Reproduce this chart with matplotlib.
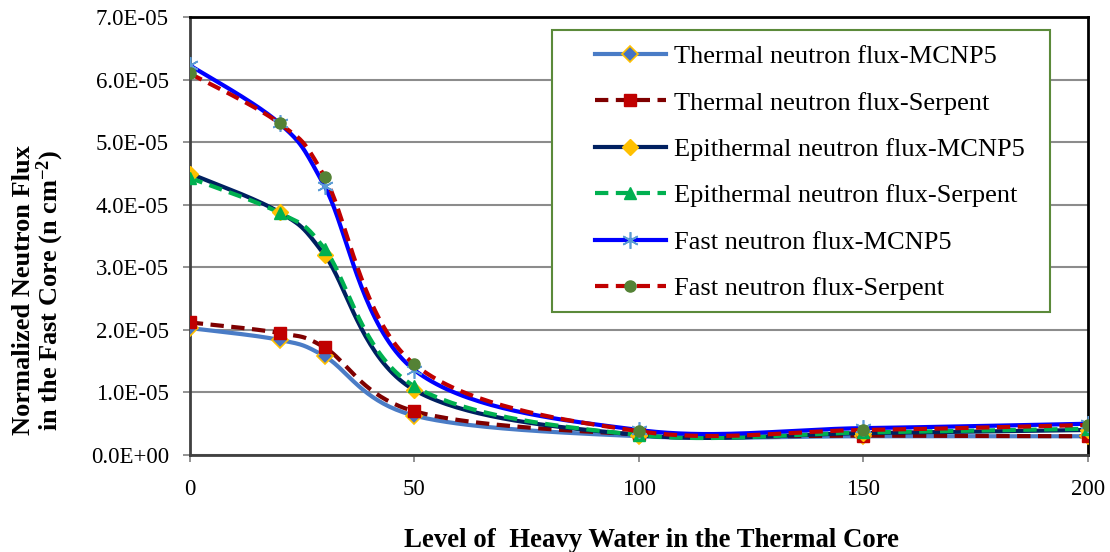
import numpy as np
import matplotlib
matplotlib.use("Agg")
import matplotlib.pyplot as plt
from matplotlib.patches import Rectangle

levels = [0, 20, 30, 50, 100, 150, 200]
thermal_mcnp = [20.3e-6, 18.4e-6, 15.8e-6, 6.3e-6, 3.0e-6, 3.0e-6, 3.0e-6]
thermal_serp = [21.2e-6, 19.5e-6, 17.2e-6, 7.0e-6, 3.3e-6, 3.1e-6, 3.0e-6]
epi_mcnp = [45.0e-6, 38.8e-6, 32.0e-6, 10.4e-6, 3.2e-6, 3.5e-6, 4.0e-6]
epi_serp = [44.3e-6, 38.7e-6, 33.0e-6, 11.0e-6, 3.2e-6, 3.6e-6, 4.2e-6]
fast_mcnp = [62.3e-6, 53.0e-6, 43.0e-6, 13.6e-6, 4.0e-6, 4.3e-6, 5.0e-6]
fast_serp = [61.0e-6, 53.0e-6, 44.5e-6, 14.5e-6, 3.8e-6, 4.0e-6, 4.8e-6]

labels = ["Thermal neutron flux-MCNP5", "Thermal neutron flux-Serpent",
          "Epithermal neutron flux-MCNP5", "Epithermal neutron flux-Serpent",
          "Fast neutron flux-MCNP5", "Fast neutron flux-Serpent"]
yticks = [0, 1e-5, 2e-5, 3e-5, 4e-5, 5e-5, 6e-5, 7e-5]
ytick_labels = ["0.0E+00", "1.0E-05", "2.0E-05", "3.0E-05", "4.0E-05", "5.0E-05", "6.0E-05", "7.0E-05"]
xticks = [0, 50, 100, 150, 200]


def smooth(x, y, n=40):
    # Excel-like smoothed line: Bezier segments with Catmull-Rom style control points
    x = np.asarray(x, float); y = np.asarray(y, float)
    px = np.concatenate([[x[0]], x, [x[-1]]])
    py = np.concatenate([[y[0]], y, [y[-1]]])
    xs, ys = [], []
    t = np.linspace(0, 1, n)
    for i in range(1, len(px) - 2):
        p0 = np.array([px[i], py[i]]); p3 = np.array([px[i + 1], py[i + 1]])
        p1 = p0 + (np.array([px[i + 1], py[i + 1]]) - np.array([px[i - 1], py[i - 1]])) / 6
        p2 = p3 - (np.array([px[i + 2], py[i + 2]]) - np.array([px[i], py[i]])) / 6
        b = ((1 - t) ** 3)[:, None] * p0 + (3 * (1 - t) ** 2 * t)[:, None] * p1 + \
            (3 * (1 - t) * t ** 2)[:, None] * p2 + (t ** 3)[:, None] * p3
        xs.append(b[:, 0]); ys.append(b[:, 1])
    return np.concatenate(xs), np.concatenate(ys)


plt.rcParams['font.family'] = ['Liberation Serif', 'DejaVu Serif']
plt.rcParams['mathtext.fontset'] = 'custom'
plt.rcParams['mathtext.rm'] = 'Liberation Serif'
plt.rcParams['mathtext.bf'] = 'Liberation Serif:bold'
plt.rcParams['mathtext.default'] = 'bf'
fig = plt.figure(figsize=(11.1, 5.52), dpi=100)
ax = fig.add_axes([0.171, 0.1757, 0.809, 0.7933])

dash = (0, (3.2, 1.8))
styles = [
    dict(color='#4A7CC6', ls='-', marker='D', mfc='#4472C4', mec='#FFC000', ms=8, mew=1.2),
    dict(color='#7F0000', ls=dash, marker='s', mfc='#C00000', mec='#C00000', ms=8, mew=1),
    dict(color='#002060', ls='-', marker='D', mfc='#FFC000', mec='#FFC000', ms=8, mew=1),
    dict(color='#00B050', ls=dash, marker='^', mfc='#00B050', mec='#00B050', ms=8, mew=1),
    dict(color='#0000FF', ls='-', marker=(6, 2, 0), mfc='#5B9BD5', mec='#5B9BD5', ms=12, mew=1.2),
    dict(color='#C00000', ls=dash, marker='o', mfc='#548235', mec='#548235', ms=8, mew=1),
]
series = [thermal_mcnp, thermal_serp, epi_mcnp, epi_serp, fast_mcnp, fast_serp]
handles = []
for s, st, lab in zip(series, styles, labels):
    sx, sy = smooth(levels, s)
    ax.plot(sx, sy, color=st['color'], ls=st['ls'], lw=3, zorder=3)
    ax.plot(levels, s, ls='none', marker=st['marker'], mfc=st['mfc'], mec=st['mec'],
            ms=st['ms'], mew=st['mew'], zorder=4)
    h, = ax.plot([], [], color=st['color'], ls=st['ls'], lw=3, marker=st['marker'],
                 mfc=st['mfc'], mec=st['mec'], ms=st['ms'], mew=st['mew'])
    handles.append(h)

ax.set_xlim(0, 200)
ax.set_ylim(0, 7e-5)
ax.set_yticks(yticks)
ax.set_yticklabels(ytick_labels)
ax.set_xticks(xticks)
ax.tick_params(axis='both', labelsize=16.5, color='#808080', length=5, width=1.2, direction='out')
ax.tick_params(axis='x', pad=12)
ax.tick_params(axis='y', pad=10)
ax.yaxis.grid(True, color='#8C8C8C', lw=1.5)
ax.set_axisbelow(True)
for sp in ax.spines.values():
    sp.set_color('black'); sp.set_linewidth(2)
ax.spines['left'].set_color('#404040')
ax.spines['bottom'].set_color('#404040')

ax.set_ylabel("Normalized Neutron Flux\nin the Fast Core (n cm$^{-2}$)", fontsize=19,
              fontweight='bold', linespacing=1.0)
ax.yaxis.set_label_coords(-0.138, 0.377)
ax.set_xlabel("Level of  Heavy Water in the Thermal Core", fontsize=19.3, fontweight='bold')
ax.xaxis.set_label_coords(0.5145, -0.167)

# legend frame
ax.add_patch(Rectangle((0.403, 0.326), 0.555, 0.644, transform=ax.transAxes, facecolor='white',
                       edgecolor='#5B8A3A', lw=1.5, zorder=5, clip_on=False))
leg = ax.legend(handles, labels, loc='upper left', bbox_to_anchor=(0.451, 0.937),
                fontsize=19, frameon=False, handlelength=2.7,
                labelspacing=0.87, borderpad=0, handletextpad=0.3, borderaxespad=0)
leg.set_zorder(6)

fig.savefig("out.png", dpi=100)
